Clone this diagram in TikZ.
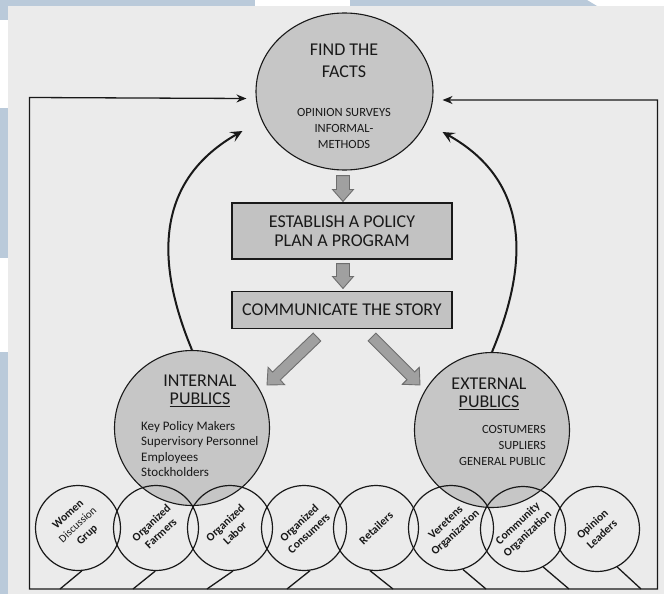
\documentclass[tikz,border=0pt]{standalone}
\usepackage{fontspec}
\setmainfont{Carlito}
\usetikzlibrary{shapes.geometric,arrows.meta,calc}

\definecolor{paper}{RGB}{235,235,235}
\definecolor{margin}{RGB}{186,202,218}
\definecolor{shade}{RGB}{198,198,198}
\definecolor{boxshade}{RGB}{194,194,194}
\definecolor{blockfill}{RGB}{160,160,160}
\definecolor{blockedge}{RGB}{110,110,110}
\definecolor{ink}{RGB}{25,25,25}

% wide grey arrow between two named coordinates:
% #1 start, #2 tip, #3 head length, #4 shaft half width, #5 head half width
\newcommand{\grayblockarrow}[5]{%
  \coordinate (#1#2h) at ($(#2)!#3!(#1)$);
  \filldraw[blockarrow] ($(#1)!#4!90:(#2)$) -- ($(#1#2h)!#4!-90:(#1)$)
    -- ($(#1#2h)!#5!-90:(#1)$) -- (#2) -- ($(#1#2h)!#5!90:(#1)$)
    -- ($(#1#2h)!#4!90:(#1)$) -- ($(#1)!#4!-90:(#2)$) -- cycle;}

\begin{document}
\begin{tikzpicture}[x=1pt,y=-1pt,
  every node/.style={text=ink},
  bigoval/.style={ellipse, draw=ink, fill=shade, line width=1.1pt, inner sep=0pt,
    minimum width=177pt, minimum height=157pt},
  bigdisc/.style={circle, draw=ink, fill=shade, line width=1.1pt, inner sep=0pt,
    minimum size=155pt},
  smallring/.style={circle, draw=ink, line width=1.2pt, inner sep=0pt,
    minimum size=85pt},
  planbox/.style={rectangle, draw=ink, fill=boxshade, line width=1.1pt,
    minimum width=220pt, inner sep=0pt, align=center,
    font=\fontsize{18}{19.5}\selectfont},
  headtext/.style={align=center, inner sep=0pt},
  listtext/.style={inner sep=0pt, font=\fontsize{13}{15.3}\selectfont},
  capstext/.style={inner sep=0pt, font=\fontsize{12.5}{16}\selectfont},
  grouptext/.style={align=center, inner sep=0pt, rotate=43,
    font=\fontsize{11.5}{14}\selectfont\bfseries},
  frameline/.style={draw=ink, line width=1.3pt, line join=miter},
  loopline/.style={draw=ink, line width=2pt,
    -{Stealth[length=12pt,width=11pt,inset=5pt]}},
  blockarrow/.style={fill=blockfill, draw=blockedge, line width=0.9pt, line join=miter},
  >={Stealth[length=10pt,width=8pt]}
]
\useasboundingbox (0,0) rectangle (664,594);

% paper and scanner margins
\fill[paper] (0,0) rectangle (664,594);
\fill[white] (0,0) rectangle (664,6);
\fill[margin] (8,0) -- (587,0) -- (597,6) -- (8,6) -- cycle;
\fill[white] (255,0) rectangle (350,6);
\fill[margin] (0,0) rectangle (8,594);
\fill[white] (0,20) rectangle (8,108);
\fill[white] (0,258) rectangle (8,352);

% fact finding
\node[bigoval] (facts) at (344.5,91.5) {};
\node[headtext, font=\fontsize{18}{22}\selectfont] (factstitle) at (344,61) {FIND THE\\FACTS};
\node[capstext, align=center] (factsnote) at (344,128) {OPINION SURVEYS\\INFORMAL-\\METHODS};

% planning and communication
\node[planbox, minimum height=56pt] (policy) at (342,231) {ESTABLISH A POLICY\\PLAN A PROGRAM};
\node[planbox, minimum height=37pt] (story) at (342,310) {COMMUNICATE THE STORY};

% publics
\node[bigdisc] (internal) at (192,428) {};
\node[headtext, font=\fontsize{18}{18}\selectfont] (inttitle) at ($(internal.center)+(8,-37)$) {INTERNAL\\\underline{PUBLICS}};
\node[listtext, align=left, anchor=west] (intlist) at ($(internal.center)+(-51,21)$)
  {Key Policy Makers\\Supervisory Personnel\\Employees\\Stockholders};

\node[bigdisc] (external) at (492,430) {};
\node[headtext, font=\fontsize{18}{18}\selectfont] (exttitle) at ($(external.center)+(-3,-36)$) {EXTERNAL\\\underline{PUBLICS}};
\node[capstext, align=right, anchor=east] (extlist) at ($(external.center)+(54,15)$)
  {COSTUMERS\\SUPLIERS\\GENERAL PUBLIC};

% groups along the bottom
\node[smallring] (g1) at (78,528) {};
\node[smallring] (g2) at (156,528) {};
\node[smallring] (g3) at (230,528) {};
\node[smallring] (g4) at (304,528) {};
\node[smallring] (g5) at (376,528) {};
\node[smallring] (g6) at (451,528) {};
\node[smallring] (g7) at (523,529) {};
\node[smallring] (g8) at (597,529) {};

\node[grouptext] (g1t) at ($(g1.center)+(0,-3)$) {Women\\{\mdseries\fontsize{11}{14}\selectfont Discussion}\\Grup};
\node[grouptext] (g2t) at (g2.center) {Organized\\Farmers};
\node[grouptext] (g3t) at (g3.center) {Organized\\Labor};
\node[grouptext] (g4t) at (g4.center) {Organized\\Consumers};
\node[grouptext] (g5t) at (g5.center) {Retailers};
\node[grouptext] (g6t) at (g6.center) {Veretens\\Organization};
\node[grouptext] (g7t) at (g7.center) {Community\\Organization};
\node[grouptext] (g8t) at (g8.center) {Opinion\\Leaders};

% feedback frame
\coordinate (ftl) at (29.5,97.5);
\coordinate (fbl) at (29.5,589);
\coordinate (fbr) at (657.5,589);
\coordinate (ftr) at (657.5,100);
\coordinate (inL) at ($(facts.west)+(-9,7)$);
\coordinate (inR) at ($(facts.east)+(9,8.5)$);
\draw[frameline, <->] (inL) -- (ftl) -- (fbl) -- (fbr) -- (ftr) -- (inR);

% ties from each group to the frame
\coordinate (t1) at (60,589);
\coordinate (t2) at (133,589);
\coordinate (t3) at (207,589);
\coordinate (t4) at (287,589);
\coordinate (t5) at (393,589);
\coordinate (t6) at (486,589);
\coordinate (t7) at (569,589);
\coordinate (t8) at (641,589);
\draw[frameline] (g1.-85) -- (t1);
\draw[frameline] (g2.-91) -- (t2);
\draw[frameline] (g3.-86) -- (t3);
\draw[frameline] (g4.-82) -- (t4);
\draw[frameline] (g5.-98) -- (t5);
\draw[frameline] (g6.-74) -- (t6);
\draw[frameline] (g7.-62) -- (t7);
\draw[frameline] (g8.-62) -- (t8);

% return loops from the publics
\coordinate (upL) at ($(facts.west)+(-13,39.5)$);
\coordinate (upR) at ($(facts.east)+(9,40.5)$);
\draw[loopline] (internal.north) .. controls (152,254) and (160,178) .. (upL);
\draw[loopline] (external.north) .. controls (533,254) and (525,178) .. (upR);

% grey flow arrows
\coordinate (b1s) at ($(facts.south)+(-1.5,5)$);
\coordinate (b1e) at ($(policy.north)+(1,-1)$);
\coordinate (b2s) at ($(policy.south)+(1,4)$);
\coordinate (b2e) at ($(story.north)+(1,-2.5)$);
\coordinate (b3s) at ($(story.south)+(-25,8)$);
\coordinate (b3e) at ($(internal.center)+(75,-43)$);
\coordinate (b4s) at ($(story.south)+(30,8)$);
\coordinate (b4e) at ($(external.center)+(-72,-45)$);
\grayblockarrow{b1s}{b1e}{12pt}{6.5pt}{10.5pt}
\grayblockarrow{b2s}{b2e}{12pt}{6.5pt}{10.5pt}
\grayblockarrow{b3s}{b3e}{13pt}{5.5pt}{12pt}
\grayblockarrow{b4s}{b4e}{13pt}{5.5pt}{12pt}
\end{tikzpicture}
\end{document}
